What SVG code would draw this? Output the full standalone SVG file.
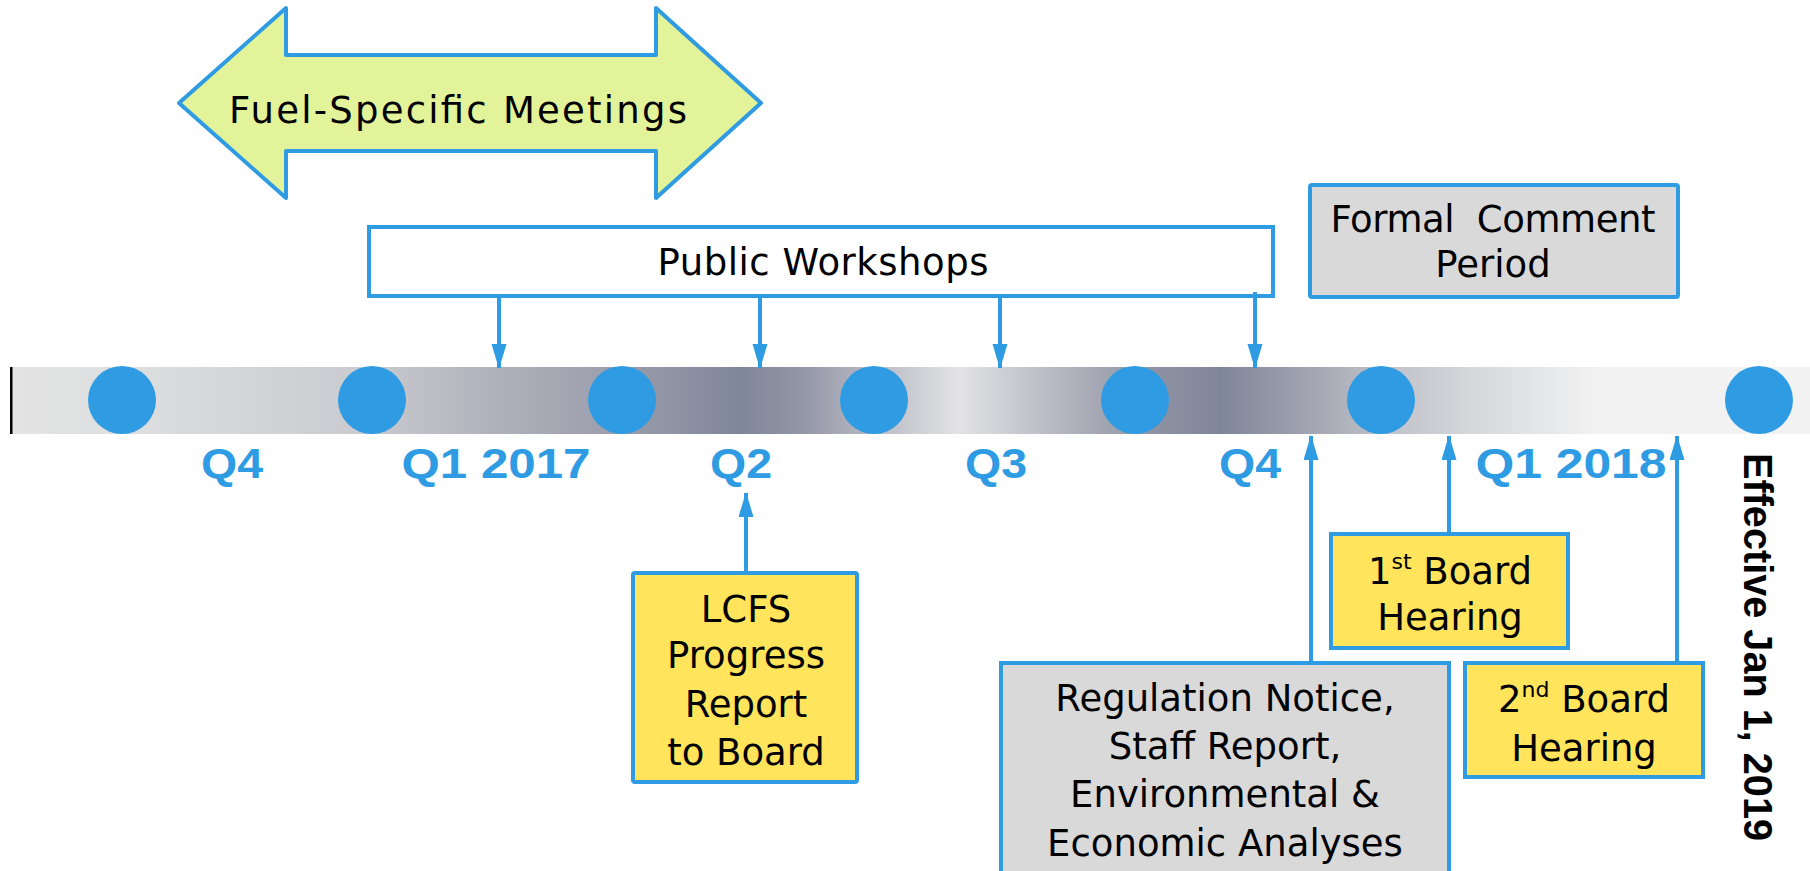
<svg xmlns="http://www.w3.org/2000/svg" width="1810" height="871" viewBox="0 0 1810 871">
<style>
.box{stroke:#2E9BE3;stroke-width:4}
.yel{fill:#FFE45C}
.gry{fill:#D9D9D9}
.t{font-family:"DejaVu Sans","Liberation Sans",sans-serif;font-size:37px;fill:#000;text-anchor:middle}
.q{font-family:"Liberation Sans",Arial,sans-serif;font-weight:bold;font-size:43px;fill:#2E9BE3;text-anchor:middle}
.dot{fill:#2E9BE3}
.conn line{stroke:#2E9BE3;stroke-width:4}
</style>
<defs>
<linearGradient id="bar" x1="12" y1="0" x2="1810" y2="0" gradientUnits="userSpaceOnUse">
<stop offset="0" stop-color="#E3E3E3"/>
<stop offset="0.061" stop-color="#DEDFE0"/>
<stop offset="0.2" stop-color="#C9CACF"/>
<stop offset="0.271" stop-color="#AEB0BA"/>
<stop offset="0.339" stop-color="#9A9DAB"/>
<stop offset="0.405" stop-color="#80869A"/>
<stop offset="0.438" stop-color="#9295A5"/>
<stop offset="0.479" stop-color="#B8BAC3"/>
<stop offset="0.527" stop-color="#E3E3E5"/>
<stop offset="0.583" stop-color="#B4B6C0"/>
<stop offset="0.633" stop-color="#8F93A3"/>
<stop offset="0.672" stop-color="#80869A"/>
<stop offset="0.711" stop-color="#9A9DAB"/>
<stop offset="0.761" stop-color="#BEC0C8"/>
<stop offset="0.816" stop-color="#D8D9DC"/>
<stop offset="0.883" stop-color="#F2F2F2"/>
<stop offset="1" stop-color="#F2F2F2"/>
</linearGradient>
<marker id="ah" markerUnits="userSpaceOnUse" markerWidth="26" markerHeight="16" refX="24" refY="7.5" orient="auto">
<path d="M0,0 L25,7.5 L0,15 z" fill="#2E9BE3"/>
</marker>
</defs>

<g id="timeline">
<rect x="12" y="367" width="1798" height="67" fill="url(#bar)"/>
<rect x="10" y="367" width="2.5" height="67" fill="#000"/>
<circle class="dot" cx="122" cy="400" r="34"/>
<circle class="dot" cx="372" cy="400" r="34"/>
<circle class="dot" cx="622" cy="400" r="34"/>
<circle class="dot" cx="874" cy="400" r="34"/>
<circle class="dot" cx="1135" cy="400" r="34"/>
<circle class="dot" cx="1381" cy="400" r="34"/>
<circle class="dot" cx="1759" cy="400" r="34"/>
</g>

<g id="quarters">
<text class="q" x="232" y="478" textLength="62" lengthAdjust="spacingAndGlyphs">Q4</text>
<text class="q" x="496" y="478" textLength="189" lengthAdjust="spacingAndGlyphs">Q1 2017</text>
<text class="q" x="741" y="478" textLength="62" lengthAdjust="spacingAndGlyphs">Q2</text>
<text class="q" x="996" y="478" textLength="62" lengthAdjust="spacingAndGlyphs">Q3</text>
<text class="q" x="1250" y="478" textLength="62" lengthAdjust="spacingAndGlyphs">Q4</text>
<text class="q" x="1571" y="478" textLength="191" lengthAdjust="spacingAndGlyphs">Q1 2018</text>
</g>

<g id="effective">
<text transform="translate(1744,453) rotate(90)" x="0" y="0" font-family="'Liberation Sans',Arial,sans-serif" font-weight="bold" font-size="41" fill="#000" textLength="388" lengthAdjust="spacingAndGlyphs">Effective Jan 1, 2019</text>
</g>

<g id="fuel-meetings">
<polygon class="box" fill="#E2F39A" stroke-linejoin="round" points="179,103 286,8 286,55 656,55 656,8 761,103 656,198 656,151 286,151 286,198"/>
<text class="t" x="458" y="123" font-size="41" textLength="458">Fuel-Specific Meetings</text>
</g>

<g id="public-workshops">
<rect class="box" x="369" y="227" width="904" height="69" fill="#fff"/>
<text class="t" x="823" y="275" font-size="38" textLength="331">Public Workshops</text>
</g>

<g id="formal-comment">
<rect class="box gry" x="1310" y="185" width="368" height="112" rx="2"/>
<text class="t" x="1493" y="232" style="white-space:pre" textLength="325">Formal  Comment</text>
<text class="t" x="1493" y="277">Period</text>
</g>

<g id="lcfs-report">
<rect class="box yel" x="633" y="573" width="224" height="209" rx="2"/>
<text class="t" x="746" y="622">LCFS</text>
<text class="t" x="746" y="668">Progress</text>
<text class="t" x="746" y="717">Report</text>
<text class="t" x="746" y="765">to Board</text>
</g>

<g id="regulation-notice">
<rect class="box gry" x="1001" y="663" width="448" height="215"/>
<text class="t" x="1225" y="711" font-size="38">Regulation Notice,</text>
<text class="t" x="1225" y="759" font-size="38">Staff Report,</text>
<text class="t" x="1225" y="807" font-size="38">Environmental &amp;</text>
<text class="t" x="1225" y="856" font-size="38">Economic Analyses</text>
</g>

<g id="board-hearing-1">
<rect class="box yel" x="1331" y="534" width="237" height="114"/>
<text class="t" x="1450" y="584" font-size="38">1<tspan font-size="22" dy="-15">st</tspan><tspan dy="15"> Board</tspan></text>
<text class="t" x="1450" y="630" font-size="38">Hearing</text>
</g>

<g id="board-hearing-2">
<rect class="box yel" x="1465" y="663" width="238" height="114"/>
<text class="t" x="1584" y="712" font-size="38">2<tspan font-size="22" dy="-15">nd</tspan><tspan dy="15"> Board</tspan></text>
<text class="t" x="1584" y="761" font-size="38">Hearing</text>
</g>

<g id="connectors" class="conn">
<line x1="499" y1="296" x2="499" y2="368" marker-end="url(#ah)"/>
<line x1="760" y1="296" x2="760" y2="368" marker-end="url(#ah)"/>
<line x1="1000" y1="296" x2="1000" y2="368" marker-end="url(#ah)"/>
<line x1="1255" y1="292" x2="1255" y2="368" marker-end="url(#ah)"/>
<line x1="746" y1="573" x2="746" y2="493" marker-end="url(#ah)"/>
<line x1="1311" y1="663" x2="1311" y2="436" marker-end="url(#ah)"/>
<line x1="1449" y1="534" x2="1449" y2="436" marker-end="url(#ah)"/>
<line x1="1677" y1="663" x2="1677" y2="436" marker-end="url(#ah)"/>
</g>
</svg>
